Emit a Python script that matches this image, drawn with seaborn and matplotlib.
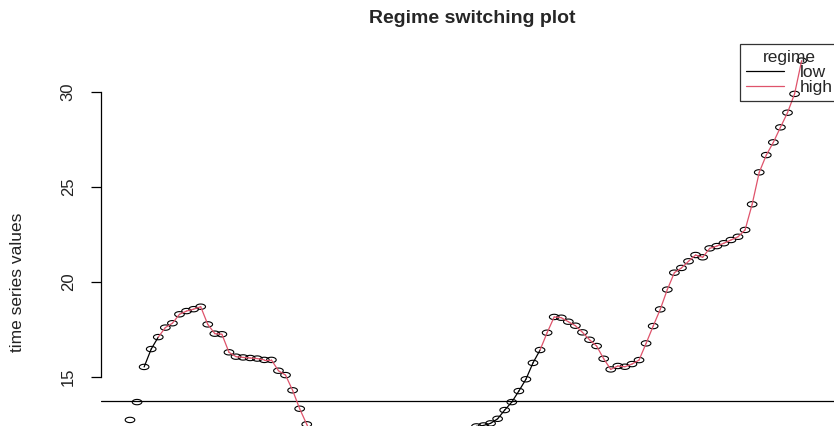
import numpy as np
import pandas as pd
import matplotlib
matplotlib.use("Agg")
import matplotlib.pyplot as plt
from matplotlib.path import Path
from matplotlib.lines import Line2D
import seaborn as sns

# ---- data -------------------------------------------------------------
# observed series (NaN where the values fall far below the plotted window)
values = [
    12.74, 13.68, 15.53, 16.47, 17.10, 17.60, 17.83, 18.30, 18.47, 18.57,
    18.70, 17.77, 17.28, 17.25, 16.30, 16.07, 16.03, 16.00, 15.97, 15.90,
    15.90, 15.33, 15.10, 14.30, 13.33, 12.51, 11.70, np.nan, np.nan, np.nan,
    np.nan, np.nan, np.nan, np.nan, np.nan, np.nan, np.nan, np.nan, np.nan, np.nan,
    np.nan, np.nan, np.nan, np.nan, np.nan, np.nan, np.nan, np.nan, 12.25, 12.40,
    12.45, 12.56, 12.80, 13.26, 13.68, 14.26, 14.88, 15.74, 16.42, 17.33,
    18.16, 18.12, 17.91, 17.70, 17.35, 16.96, 16.63, 15.96, 15.40, 15.58,
    15.54, 15.68, 15.89, 16.77, 17.68, 18.56, 19.60, 20.49, 20.74, 21.09,
    21.42, 21.30, 21.77, 21.89, 22.04, 22.21, 22.38, 22.74, 24.09, 25.77,
    26.68, 27.35, 28.14, 28.91, 29.90, 31.65,
]

# regime of each observation (None where no regime was assigned)
regime = (
    [None, None]
    + ["low"] * 2
    + ["high"] * 23
    + [None] * 21
    + ["low"] * 10
    + ["high"] * 38
)

threshold = 13.74
regime_levels = ["low", "high"]
regime_colors = {"low": "#000000", "high": "#DF536B"}
y_ticks = [15, 20, 25, 30]
title = "Regime switching plot"
y_label = "time series values"

# ---- figure -----------------------------------------------------------
sns.set_theme(style="white")
plt.rcParams["font.family"] = ["Liberation Sans", "DejaVu Sans"]

fig = plt.figure(figsize=(8.34, 4.26), dpi=100)
ax = fig.add_axes([101 / 834, -95 / 426, 742 / 834, 477 / 426])
ax.set_xlim(-4.10, 100.85)
ax.set_ylim(7.421, 32.526)

t = np.arange(len(values))
points = pd.DataFrame({"t": t, "value": values})

# open (slightly oval) point markers
theta = np.linspace(0, 2 * np.pi, 49)
oval = Path(np.column_stack([1.8 * np.cos(theta), np.sin(theta)]), closed=True)
sns.scatterplot(
    data=points.dropna(), x="t", y="value", ax=ax,
    marker=oval, s=48, facecolors="none", edgecolors="black",
    linewidth=0.8, zorder=3,
)

# line segments coloured by the regime of their starting observation
rows = []
for i in range(len(values) - 1):
    r = regime[i]
    if r is None or np.isnan(values[i]) or np.isnan(values[i + 1]):
        continue
    rows.append({"seg": i, "t": t[i], "value": values[i], "regime": r})
    rows.append({"seg": i, "t": t[i + 1], "value": values[i + 1], "regime": r})
segments = pd.DataFrame(rows)
sns.lineplot(
    data=segments, x="t", y="value", hue="regime", units="seg",
    estimator=None, sort=False, palette=regime_colors,
    hue_order=regime_levels, linewidth=0.9, legend=False, ax=ax, zorder=4,
)

ax.axhline(threshold, color="black", linewidth=0.9, zorder=2)

# axes styling
for side in ["top", "right", "bottom"]:
    ax.spines[side].set_visible(False)
ax.spines["left"].set_bounds(y_ticks[0], y_ticks[-1])
ax.spines["left"].set_color("black")
ax.spines["left"].set_linewidth(0.9)
ax.set_xticks([])
ax.set_yticks(y_ticks)
ax.set_yticklabels([str(v) for v in y_ticks], rotation=90, va="center",
                   fontsize=12, color="#222222")
ax.tick_params(axis="y", which="major", left=True, length=7.2, width=0.9,
               color="black", pad=11)
ax.set_xlabel("")
ax.set_ylabel(y_label, fontsize=12.5, color="#222222")
ax.yaxis.set_label_coords(-0.1024, 0.501)

ax.set_title(title, fontsize=14, fontweight="bold", y=1.044, pad=0)

handles = [Line2D([], [], color=regime_colors[r], linewidth=0.9) for r in regime_levels]
leg = ax.legend(
    handles, regime_levels, title="regime", loc="upper right",
    bbox_to_anchor=(0.9946, 1.0), borderaxespad=0, frameon=True,
    fancybox=False, edgecolor="black", facecolor="none", framealpha=None,
    fontsize=12.5, title_fontsize=12.5, handlelength=2.2,
    handletextpad=0.9, borderpad=0.35, labelspacing=0.0,
)
leg.get_frame().set_linewidth(0.9)

fig.savefig("out.png", dpi=100)
